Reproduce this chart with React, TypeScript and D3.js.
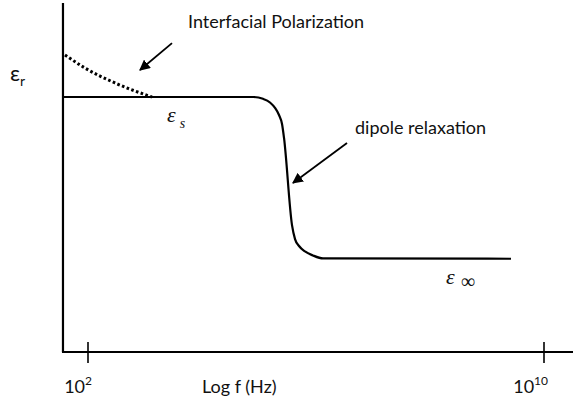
import React from "react";
import * as d3 from "d3";

// Dielectric permittivity vs. log frequency (schematic)
// Values are log10(f / Hz) and relative permittivity (arbitrary units).
const relaxLogF = [
  1.561, 4.895, 5.07, 5.193, 5.281, 5.351, 5.404, 5.439, 5.579, 5.632, 5.702, 5.807, 5.947, 6.123, 9.421,
];
const relaxEps = [
  14, 14, 13.9, 13.7, 13.4, 13.01, 12.52, 11.75, 6.97, 6.2, 5.82, 5.52, 5.3, 5.14, 5.12,
];

const interfLogF = [1.596, 1.947, 2.474, 3.123];
const interfEps = [16.31, 15.59, 14.77, 14.0];

const tickExponents = [2, 10];
const xTitle = "Log f (Hz)";
const yTitle = "ε";
const yTitleSub = "r";

const W = 573;
const H = 400;

export default function App() {
  const x = d3.scaleLog().domain([1e2, 1e10]).range([88, 544]);
  const y = d3.scaleLinear().domain([0, 14]).range([352, 97]);
  const lx = (lf: number) => x(Math.pow(10, lf));

  const relax = relaxLogF.map((lf, i) => [lx(lf), y(relaxEps[i])] as [number, number]);
  const interf = interfLogF.map((lf, i) => [lx(lf), y(interfEps[i])] as [number, number]);

  const line = d3.line().curve(d3.curveMonotoneX);

  const axisX0 = lx(1.561);
  const axisY0 = y(0);
  const sans = "Lato, 'Open Sans', sans-serif";
  const serif = "'Liberation Serif', 'DejaVu Serif', serif";

  return (
    <svg
      width={W}
      height={H}
      style={{ position: "absolute", left: 0, top: 0, background: "#fff" }}
    >
      <defs>
        <marker
          id="head"
          viewBox="0 0 10 10"
          refX="9"
          refY="5"
          markerWidth="6"
          markerHeight="6"
          markerUnits="strokeWidth"
          orient="auto"
        >
          <path d="M0,0 L10,5 L0,10 z" fill="#000" />
        </marker>
      </defs>

      {/* axes */}
      <line x1={axisX0} y1={3} x2={axisX0} y2={axisY0} stroke="#000" strokeWidth={2.2} />
      <line x1={axisX0 - 1} y1={axisY0} x2={W} y2={axisY0} stroke="#000" strokeWidth={2.2} />
      {tickExponents.map((e) => (
        <g key={e}>
          <line
            x1={x(Math.pow(10, e))}
            x2={x(Math.pow(10, e))}
            y1={axisY0 - 10}
            y2={axisY0 + 11}
            stroke="#000"
            strokeWidth={1.6}
          />
          <text
            x={x(Math.pow(10, e)) + 4}
            y={393}
            textAnchor="end"
            fontFamily={sans}
            fontSize={18}
            fill="#111"
          >
            10
            <tspan dy={-8} fontSize={12}>
              {e}
            </tspan>
          </text>
        </g>
      ))}
      <text x={202} y={393} fontFamily={sans} fontSize={18} fill="#111">
        {xTitle}
      </text>
      <text x={10} y={81} fontFamily={sans} fontSize={22} fill="#111">
        {yTitle}
        <tspan dy={5} fontSize={14}>
          {yTitleSub}
        </tspan>
      </text>

      {/* curves */}
      <path d={line(relax) || ""} fill="none" stroke="#000" strokeWidth={2.2} />
      <path
        d={line(interf) || ""}
        fill="none"
        stroke="#000"
        strokeWidth={3}
        strokeDasharray="2.6,2.4"
      />

      {/* labels */}
      <text x={167} y={122} fontFamily={serif} fontStyle="italic" fontSize={22} fill="#111">
        ε
        <tspan dx={4} dy={6} fontSize={14}>
          s
        </tspan>
      </text>
      <text x={446} y={284} fontFamily={serif} fontStyle="italic" fontSize={22} fill="#111">
        ε
        <tspan dx={6} dy={4} fontSize={20} fontStyle="normal">
          ∞
        </tspan>
      </text>

      {/* annotations */}
      <text x={188} y={28} fontFamily={sans} fontSize={18} fill="#111">
        Interfacial Polarization
      </text>
      <line
        x1={lx(3.474)}
        y1={y(16.96)}
        x2={lx(2.912)}
        y2={y(15.48)}
        stroke="#000"
        strokeWidth={1.8}
        markerEnd="url(#head)"
      />
      <text x={355} y={134} fontFamily={sans} fontSize={18} fill="#111">
        dipole relaxation
      </text>
      <line
        x1={lx(6.544)}
        y1={y(11.47)}
        x2={lx(5.596)}
        y2={y(9.28)}
        stroke="#000"
        strokeWidth={1.8}
        markerEnd="url(#head)"
      />
    </svg>
  );
}
